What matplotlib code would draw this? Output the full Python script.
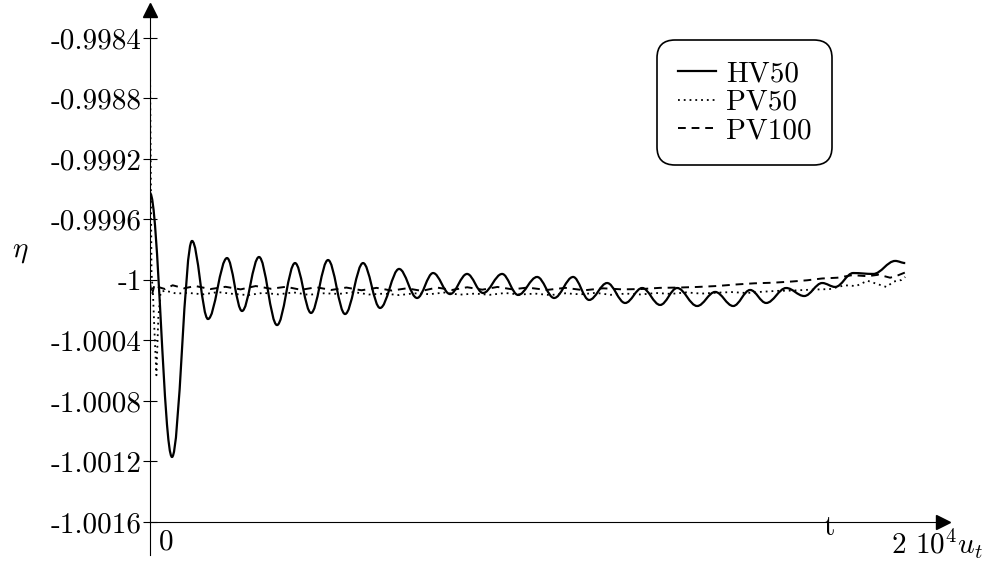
"""
Relaxation of eta over time for HV50 / PV50 / PV100 runs.
"""

import matplotlib
matplotlib.use("Agg")
import matplotlib.pyplot as plt
from matplotlib.path import Path
from matplotlib.patches import PathPatch
from matplotlib.lines import Line2D

plt.rcParams["font.family"] = ["cmr10", "DejaVu Serif"]
plt.rcParams["mathtext.fontset"] = "cm"
plt.rcParams["axes.unicode_minus"] = False

# HV50: turning points of the damped oscillation (t in 10^4 u_t, eta)
hv50_t = [0.0, 0.0583, 0.1113, 0.1536, 0.2040, 0.2437, 0.2887, 0.3364, 0.3841,
          0.4265, 0.4715, 0.5166, 0.5642, 0.6093, 0.6596, 0.7073, 0.7497, 0.7947,
          0.8397, 0.8821, 0.9325, 0.9748, 1.0252, 1.0702, 1.1205, 1.1629, 1.2106,
          1.2583, 1.3033, 1.3510, 1.3960, 1.4490, 1.4967, 1.5444, 1.5894, 1.6318,
          1.6848, 1.7325, 1.7801, 1.8146, 1.8623, 1.9152, 1.9735, 2.0]
hv50_eta = [-0.999425, -1.001170, -0.999742, -1.000258, -0.999855, -1.000205,
            -0.999848, -1.000298, -0.999888, -1.000218, -0.999868, -1.000225,
            -0.999888, -1.000185, -0.999927, -1.000119, -0.999954, -1.000093,
            -0.999960, -1.000086, -0.999960, -1.000099, -0.999980, -1.000119,
            -0.999980, -1.000132, -1.000020, -1.000152, -1.000053, -1.000165,
            -1.000053, -1.000172, -1.000079, -1.000172, -1.000066, -1.000152,
            -1.000053, -1.000106, -1.000020, -1.000046, -0.999954, -0.999960,
            -0.999874, -0.999888]

# PV50 (dotted)
pv50_t = [0.0, 0.004, 0.008, 0.012, 0.017, 0.022, 0.028, 0.04, 0.07, 0.10, 0.14,
          0.18, 0.22, 0.26, 0.30, 0.34, 0.38, 0.42, 0.46, 0.50, 0.54, 0.58, 0.62,
          0.66, 0.70, 0.74, 0.78, 0.82, 0.86, 0.90, 0.94, 0.98, 1.02, 1.06, 1.10,
          1.14, 1.18, 1.22, 1.26, 1.30, 1.34, 1.38, 1.42, 1.46, 1.50, 1.54, 1.58,
          1.62, 1.66, 1.70, 1.75, 1.80, 1.84, 1.87, 1.90, 1.93, 1.95, 1.97, 1.99, 2.0]
pv50_eta = [-0.998560, -0.999950, -1.000100, -1.000350, -1.000630, -1.000250,
            -1.000080, -1.000070, -1.000090, -1.000085, -1.000095, -1.000080,
            -1.000092, -1.000100, -1.000085, -1.000095, -1.000082, -1.000098,
            -1.000088, -1.000092, -1.000080, -1.000096, -1.000090, -1.000100,
            -1.000088, -1.000094, -1.000083, -1.000097, -1.000090, -1.000098,
            -1.000086, -1.000096, -1.000090, -1.000100, -1.000088, -1.000095,
            -1.000085, -1.000098, -1.000090, -1.000096, -1.000086, -1.000092,
            -1.000082, -1.000090, -1.000084, -1.000080, -1.000086, -1.000078,
            -1.000072, -1.000070, -1.000064, -1.000060, -1.000035, -1.000040,
            -1.000005, -1.000030, -1.000046, -1.000010, -1.000000, -0.999980]

# PV100 (dashed)
pv100_t = [0.0, 0.005, 0.012, 0.02, 0.04, 0.06, 0.09, 0.12, 0.16, 0.20, 0.24,
           0.28, 0.32, 0.36, 0.40, 0.44, 0.48, 0.52, 0.56, 0.60, 0.64, 0.68, 0.72,
           0.76, 0.80, 0.84, 0.88, 0.92, 0.96, 1.00, 1.05, 1.10, 1.15, 1.20, 1.25,
           1.30, 1.35, 1.40, 1.45, 1.50, 1.55, 1.60, 1.65, 1.70, 1.74, 1.78, 1.82,
           1.86, 1.90, 1.93, 1.96, 1.98, 2.0]
pv100_eta = [-1.000020, -1.000100, -1.000030, -1.000045, -1.000060, -1.000035,
             -1.000055, -1.000040, -1.000060, -1.000045, -1.000062, -1.000040,
             -1.000058, -1.000045, -1.000065, -1.000048, -1.000066, -1.000050,
             -1.000068, -1.000052, -1.000070, -1.000055, -1.000072, -1.000050,
             -1.000066, -1.000048, -1.000064, -1.000046, -1.000062, -1.000050,
             -1.000066, -1.000052, -1.000068, -1.000055, -1.000062, -1.000060,
             -1.000052, -1.000050, -1.000046, -1.000040, -1.000030, -1.000022,
             -1.000018, -1.000010, -1.000002, -0.999990, -0.999985, -0.999968,
             -0.999975, -0.999965, -0.999985, -0.999970, -0.999950]

y_ticks = [-0.9984, -0.9988, -0.9992, -0.9996, -1.0, -1.0004, -1.0008, -1.0012, -1.0016]
y_tick_labels = ["-0.9984", "-0.9988", "-0.9992", "-0.9996", "-1",
                 "-1.0004", "-1.0008", "-1.0012", "-1.0016"]
series_labels = ["HV50", "PV50", "PV100"]

FS = 21
DOTS = (0, (1, 2.2))
DASHES = (0, (4, 3))


def smooth_path(xs, ys, k=0.3642):
    """Cubic path through turning points with flat tangents at each one."""
    verts = [(xs[0], ys[0])]
    codes = [Path.MOVETO]
    for (x0, y0), (x1, y1) in zip(zip(xs[:-1], ys[:-1]), zip(xs[1:], ys[1:])):
        dx = x1 - x0
        verts += [(x0 + k * dx, y0), (x1 - k * dx, y1), (x1, y1)]
        codes += [Path.CURVE4] * 3
    return Path(verts, codes)


fig = plt.figure(figsize=(9.9, 5.63), dpi=100)
ax = fig.add_axes([150 / 990, 41 / 563, 793 / 990, 512 / 563])

ax.add_patch(PathPatch(smooth_path(hv50_t, hv50_eta), fill=False,
                       edgecolor="black", linewidth=1.6))
ax.plot(pv50_t, pv50_eta, color="black", linewidth=1.3, linestyle=DOTS)
ax.plot(pv100_t, pv100_eta, color="black", linewidth=1.4, linestyle=DASHES)

ax.set_xlim(0, 2.1)
ax.set_ylim(-1.0016, -0.998215)

for side in ("top", "right"):
    ax.spines[side].set_visible(False)
for side in ("left", "bottom"):
    ax.spines[side].set_linewidth(0.8)

ax.set_xticks([])
ax.set_yticks(y_ticks)
ax.set_yticklabels(y_tick_labels)
ax.tick_params(axis="y", direction="inout", length=10, width=0.8,
               labelsize=FS, pad=1)

# axis arrows and the short tail of the y axis below the x axis
ax.plot([0], [1], marker="^", markersize=10, color="black",
        transform=ax.transAxes, clip_on=False)
ax.plot([1], [0], marker=">", markersize=10, color="black",
        transform=ax.transAxes, clip_on=False)
ax.plot([0, 0], [0, -0.064], color="black", linewidth=0.8,
        transform=ax.transAxes, clip_on=False)

ax.text(-0.163, 0.527, r"$\eta$", transform=ax.transAxes, fontsize=FS,
        ha="center", va="center")
ax.text(0.021, -0.04, "0", transform=ax.transAxes, fontsize=FS,
        ha="center", va="center")
ax.text(0.857, -0.012, "t", transform=ax.transAxes, fontsize=FS,
        ha="center", va="center")
ax.text(0.934, -0.042, r"2 10$^4$$u_t$", transform=ax.transAxes, fontsize=FS,
        ha="left", va="center")

handles = [Line2D([], [], color="black", linewidth=1.6),
           Line2D([], [], color="black", linewidth=1.3, linestyle=DOTS),
           Line2D([], [], color="black", linewidth=1.4, linestyle=DASHES)]
leg = ax.legend(handles, series_labels, loc="upper right",
                bbox_to_anchor=(0.86, 0.941), fontsize=FS, frameon=True,
                fancybox=True, framealpha=1, edgecolor="black",
                handlelength=1.3, handletextpad=0.35, labelspacing=0.08,
                borderpad=0.7, borderaxespad=0)
leg.get_frame().set_linewidth(1.2)
leg.get_frame().set_boxstyle("round", pad=0, rounding_size=0.6)

fig.savefig("out.png", dpi=100)
